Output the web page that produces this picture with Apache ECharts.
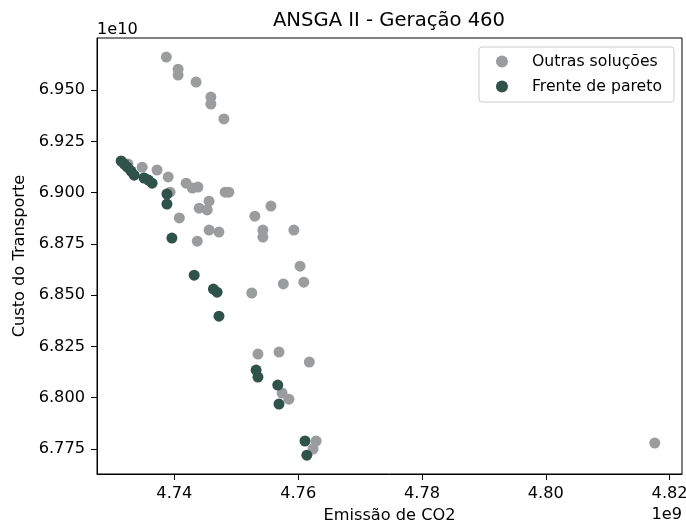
<!DOCTYPE html>
<html>
<head>
<meta charset="utf-8">
<script src="https://cdn.jsdelivr.net/npm/echarts@6/dist/echarts.min.js"></script>
<style>
html,body{margin:0;padding:0;background:#fff;}
#chart{width:686px;height:526px;}
</style>
</head>
<body>
<div id="chart"></div>
<script>
// Values: emission in units of 1e9, cost in units of 1e10
const titleText = "ANSGA II - Geração 460";
const xLabel = "Emissão de CO2";
const yLabel = "Custo do Transporte";
const seriesNames = ["Outras soluções", "Frente de pareto"];

const otherX = [4.7387, 4.7406, 4.7406, 4.7435, 4.7459, 4.7459, 4.7480, 4.7325, 4.7348, 4.7372,
                4.7390, 4.7393, 4.7419, 4.7429, 4.7438, 4.7482, 4.7488, 4.7456, 4.7440, 4.7453,
                4.7408, 4.7530, 4.7556, 4.7456, 4.7472, 4.7437, 4.7543, 4.7543, 4.7593, 4.7603,
                4.7609, 4.7576, 4.7525, 4.7535, 4.7569, 4.7618, 4.7574, 4.7585, 4.7629, 4.7624,
                4.8176];
const otherY = [6.9661, 6.9602, 6.9573, 6.9539, 6.9466, 6.9432, 6.9359, 6.9139, 6.9124, 6.9110,
                6.9076, 6.9002, 6.9046, 6.9022, 6.9027, 6.9002, 6.9002, 6.8958, 6.8924, 6.8915,
                6.8876, 6.8885, 6.8934, 6.8817, 6.8807, 6.8763, 6.8817, 6.8783, 6.8817, 6.8641,
                6.8563, 6.8554, 6.8510, 6.8212, 6.8222, 6.8173, 6.8022, 6.7992, 6.7788, 6.7749,
                6.7778];

const paretoX = [4.7314, 4.7319, 4.7324, 4.7330, 4.7335, 4.7351, 4.7358, 4.7364, 4.7388, 4.7388,
                 4.7396, 4.7432, 4.7463, 4.7469, 4.7472, 4.7532, 4.7535, 4.7567, 4.7569, 4.7611,
                 4.7614];
const paretoY = [6.9154, 6.9139, 6.9124, 6.9105, 6.9085, 6.9071, 6.9061, 6.9046, 6.8993, 6.8944,
                 6.8778, 6.8597, 6.8529, 6.8514, 6.8397, 6.8134, 6.8100, 6.8061, 6.7968, 6.7788,
                 6.7719];

const xTicks = [4.74, 4.76, 4.78, 4.80, 4.82];
const yTicks = [6.775, 6.800, 6.825, 6.850, 6.875, 6.900, 6.925, 6.950];
const xRange = [4.7275, 4.8220];
const yRange = [6.7627, 6.9754];

const zip = (a, b) => a.map((v, i) => [v, b[i]]);
const FONT = "DejaVu Sans";
const FS = 16.2;

const chart = echarts.init(document.getElementById('chart'), null, {renderer: 'canvas'});
chart.setOption({
  animation: false,
  backgroundColor: '#fff',
  textStyle: {fontFamily: FONT, color: '#000'},
  title: {
    text: titleText,
    left: 384, top: 6, textAlign: 'center',
    textStyle: {fontFamily: FONT, fontSize: 19.6, fontWeight: 'normal', color: '#000'}
  },
  grid: {
    left: 97, right: 4, top: 38, bottom: 52,
    show: true, borderColor: '#000', borderWidth: 1, containLabel: false,
    outerBoundsMode: 'none'
  },
  legend: {
    orient: 'vertical', right: 12, top: 47,
    data: seriesNames,
    icon: 'circle', itemWidth: 12, itemHeight: 12, itemGap: 8,
    padding: [6, 12, 7, 17],
    backgroundColor: '#fff', borderColor: '#cccccc', borderWidth: 1, borderRadius: 3,
    textStyle: {fontFamily: FONT, fontSize: 15.7, color: '#000', lineHeight: 17, padding: [0, 0, 0, 19]}
  },
  xAxis: {
    type: 'value', min: xRange[0], max: xRange[1],
    name: xLabel, nameLocation: 'middle', nameGap: 34,
    nameTextStyle: {fontFamily: FONT, fontSize: FS, color: '#000'},
    splitLine: {show: false},
    axisLine: {show: true, onZero: false, lineStyle: {color: '#000', width: 1}},
    axisTick: {show: true, inside: false, length: 6, customValues: xTicks, lineStyle: {color: '#000'}},
    axisLabel: {show: true, customValues: xTicks, margin: 12, fontFamily: FONT, fontSize: FS, color: '#000',
                formatter: v => v.toFixed(2)}
  },
  yAxis: {
    type: 'value', min: yRange[0], max: yRange[1],
    name: yLabel, nameLocation: 'middle', nameGap: 67, nameRotate: 90,
    nameTextStyle: {fontFamily: FONT, fontSize: FS, color: '#000'},
    splitLine: {show: false},
    axisLine: {show: true, onZero: false, lineStyle: {color: '#000', width: 1}},
    axisTick: {show: true, inside: false, length: 6, customValues: yTicks, lineStyle: {color: '#000'}},
    axisLabel: {show: true, customValues: yTicks, margin: 12, fontFamily: FONT, fontSize: FS, color: '#000',
                formatter: v => v.toFixed(3)}
  },
  graphic: [
    {type: 'text', left: 97, top: 22, style: {text: '1e10', fontFamily: FONT, fontSize: FS, fill: '#000'}},
    {type: 'text', right: 4, top: 507, style: {text: '1e9', fontFamily: FONT, fontSize: FS, fill: '#000'}}
  ],
  series: [
    {
      name: seriesNames[0], type: 'scatter', symbol: 'circle', symbolSize: 11,
      itemStyle: {color: '#9b9c9d', opacity: 1},
      data: zip(otherX, otherY)
    },
    {
      name: seriesNames[1], type: 'scatter', symbol: 'circle', symbolSize: 11,
      itemStyle: {color: '#2f5349', opacity: 1},
      data: zip(paretoX, paretoY)
    }
  ]
});
</script>
</body>
</html>
